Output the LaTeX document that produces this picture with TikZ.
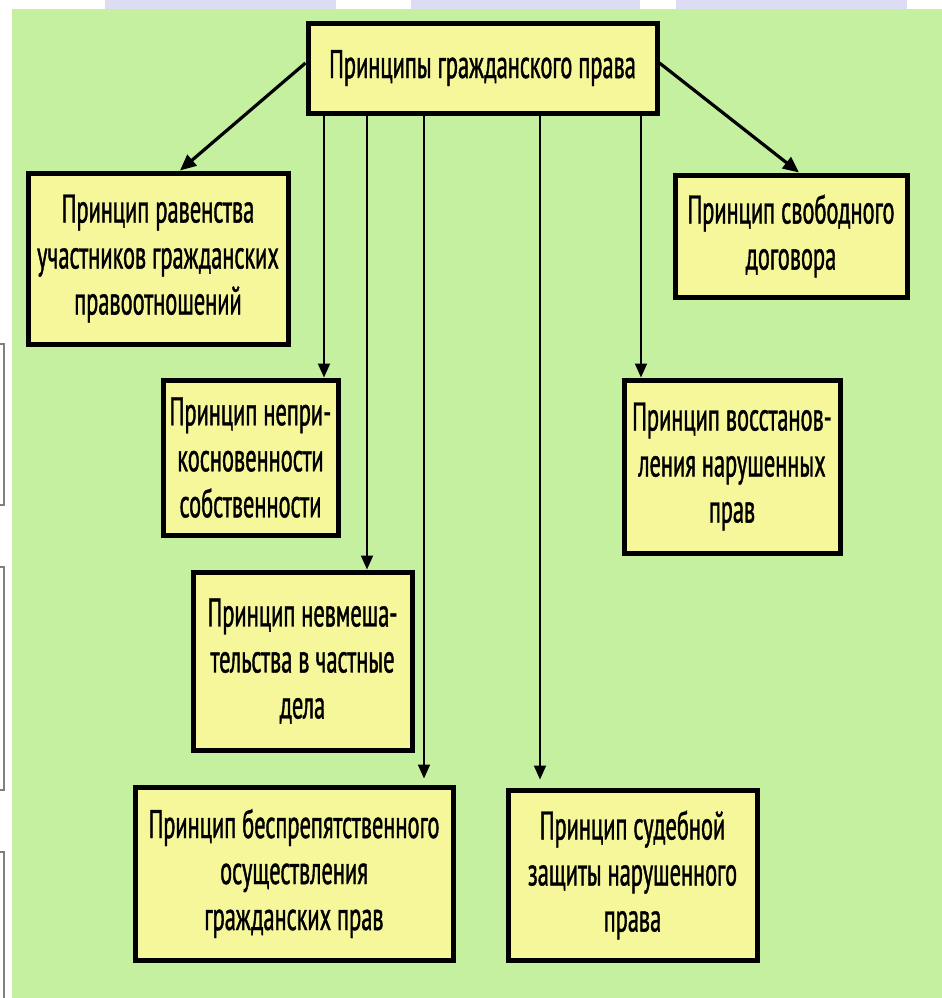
\documentclass[tikz,border=0pt]{standalone}
\usepackage{fontspec}
\setmainfont{PT Sans}[FakeStretch=0.56, FakeBold=1]
\usetikzlibrary{arrows.meta}
\definecolor{fonzel}{RGB}{197,240,160}
\definecolor{boxzhel}{RGB}{246,246,154}
\definecolor{slajd}{RGB}{220,220,242}
\tikzset{
	princip/.style={draw=black, line width=2.5pt, fill=boxzhel, align=center, inner sep=0pt,
		font=\fontsize{20}{23}\selectfont},
	vstrel/.style={line width=1pt, -{Triangle[length=7pt,width=6pt]}},
	dstrel/.style={line width=1.6pt, -{Triangle[length=8pt,width=7pt]}}
}

\begin{document}
\begin{tikzpicture}[x=0.5pt,y=0.5pt]
			\useasboundingbox (0,0) rectangle (942,-998);
			% slide behind
			\fill [slajd] (105,0) rectangle (336,-9);
			\fill [slajd] (411,0) rectangle (640,-9);
			\fill [slajd] (676,0) rectangle (907,-9);
			\draw [gray, line width=0.6pt] (0,-344) -- (4,-344) -- (4,-505) -- (0,-505);
			\draw [gray, line width=0.6pt] (0,-567) -- (4,-567) -- (4,-790) -- (0,-790);
			\draw [gray, line width=0.6pt] (0,-852) -- (4,-852) -- (4,-998);
			\fill [fonzel] (12,-9) rectangle (942,-998);
			% boxes
			\node [princip, minimum width=174.5pt, minimum height=45pt] (glav) at (482.5,-68) {Принципы гражданского права};
			\node [princip, minimum width=130pt, minimum height=85.5pt] (ravn) at (158,-258.5) {Принцип равенства\\участников гражданских\\правоотношений};
			\node [princip, minimum width=116pt, minimum height=61pt] (svob) at (791,-236) {Принцип свободного\\договора};
			\node [princip, minimum width=87.5pt, minimum height=77.5pt] (nepri) at (250.5,-457.5) {Принцип непри-\\косновенности\\собственности};
			\node [princip, minimum width=108pt, minimum height=86.5pt] (vosst) at (732,-466.5) {Принцип восстанов-\\ления нарушенных\\прав};
			\node [princip, minimum width=109.5pt, minimum height=89pt] (nevm) at (302.5,-661) {Принцип невмеша-\\тельства в частные\\дела};
			\node [princip, minimum width=159pt, minimum height=86.5pt] (besp) at (294,-873.5) {Принцип беспрепятственного\\осуществления\\гражданских прав};
			\node [princip, minimum width=124.5pt, minimum height=85pt] (sud) at (632.5,-875) {Принцип судебной\\защиты нарушенного\\права};
			% arrows
			\coordinate (k1) at (324,0);
			\coordinate (k2) at (367,0);
			\coordinate (k3) at (424,0);
			\coordinate (k4) at (540,0);
			\coordinate (k5) at (641,0);
			\draw [dstrel] ([yshift=2.5pt]glav.west) -- ([xshift=11pt]ravn.north);
			\draw [dstrel] ([yshift=2.5pt]glav.east) -- ([xshift=4pt]svob.north);
			\draw [vstrel] (glav.south -| k1) -- (nepri.north -| k1);
			\draw [vstrel] (glav.south -| k2) -- (nevm.north -| k2);
			\draw [vstrel] (glav.south -| k3) -- ([yshift=3pt]besp.north -| k3);
			\draw [vstrel] (glav.south -| k4) -- ([yshift=4pt]sud.north -| k4);
			\draw [vstrel] (glav.south -| k5) -- (vosst.north -| k5);
		\end{tikzpicture}
\end{document}
